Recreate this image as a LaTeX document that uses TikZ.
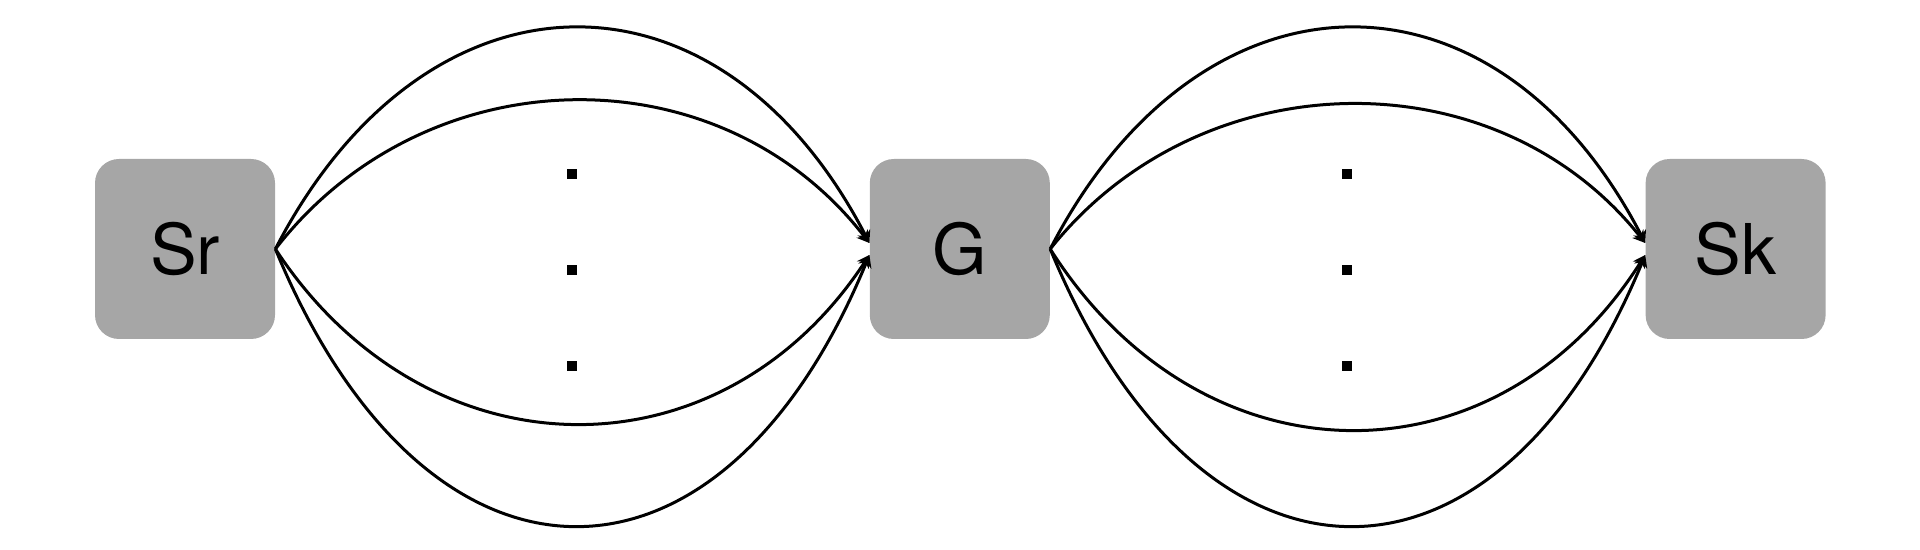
\documentclass[tikz,border=0pt]{standalone}
\usepackage{fontspec}
\setmainfont{TeX Gyre Heros}
\usetikzlibrary{arrows.meta, positioning, shapes}
\definecolor{boxgray}{HTML}{A6A6A6}
\tikzstyle{stage} = [fill=boxgray, rounded corners=12pt, minimum size=90pt, inner sep=0pt, font=\fontsize{35}{40}\selectfont]
\tikzstyle{link} = [line width=1.5pt, -{Stealth[length=6pt, width=7pt]}]
\tikzstyle{dotbox} = [fill=black, minimum size=5pt, inner sep=0pt]

\begin{document}
\begin{tikzpicture}[x=0.5pt, y=-0.5pt]
  \useasboundingbox (0,0) rectangle (1920,550);
  % Nodes
  \node (sr) [stage] at (185,249) {Sr};
  \node (g) [stage, right=297pt of sr] {G};
  \node (sk) [stage, right=297.5pt of g] {Sk};

  % Dots
  \node (da1) [dotbox] at (572,174) {};
  \node (da2) [dotbox] at (572,270) {};
  \node (da3) [dotbox] at (572,366) {};
  \node (db1) [dotbox] at (1347,174) {};
  \node (db2) [dotbox] at (1347,270) {};
  \node (db3) [dotbox] at (1347,366) {};

  % Arrows
  \draw[link] (sr.east) .. controls +(150,-291) and +(-150,-291) .. ([yshift=3pt]g.west);
  \draw[link] (sr.east) .. controls +(150,-194) and +(-150,-194) .. ([yshift=3pt]g.west);
  \draw[link] (sr.east) .. controls +(150,229) and +(-150,229) .. ([yshift=-3pt]g.west);
  \draw[link] (sr.east) .. controls +(150,365) and +(-150,365) .. ([yshift=-3pt]g.west);
  \draw[link] (g.east) .. controls +(150,-291) and +(-150,-291) .. ([yshift=3pt]sk.west);
  \draw[link] (g.east) .. controls +(150,-189) and +(-150,-189) .. ([yshift=3pt]sk.west);
  \draw[link] (g.east) .. controls +(150,237) and +(-150,237) .. ([yshift=-3pt]sk.west);
  \draw[link] (g.east) .. controls +(150,365) and +(-150,365) .. ([yshift=-3pt]sk.west);
\end{tikzpicture}
\end{document}
